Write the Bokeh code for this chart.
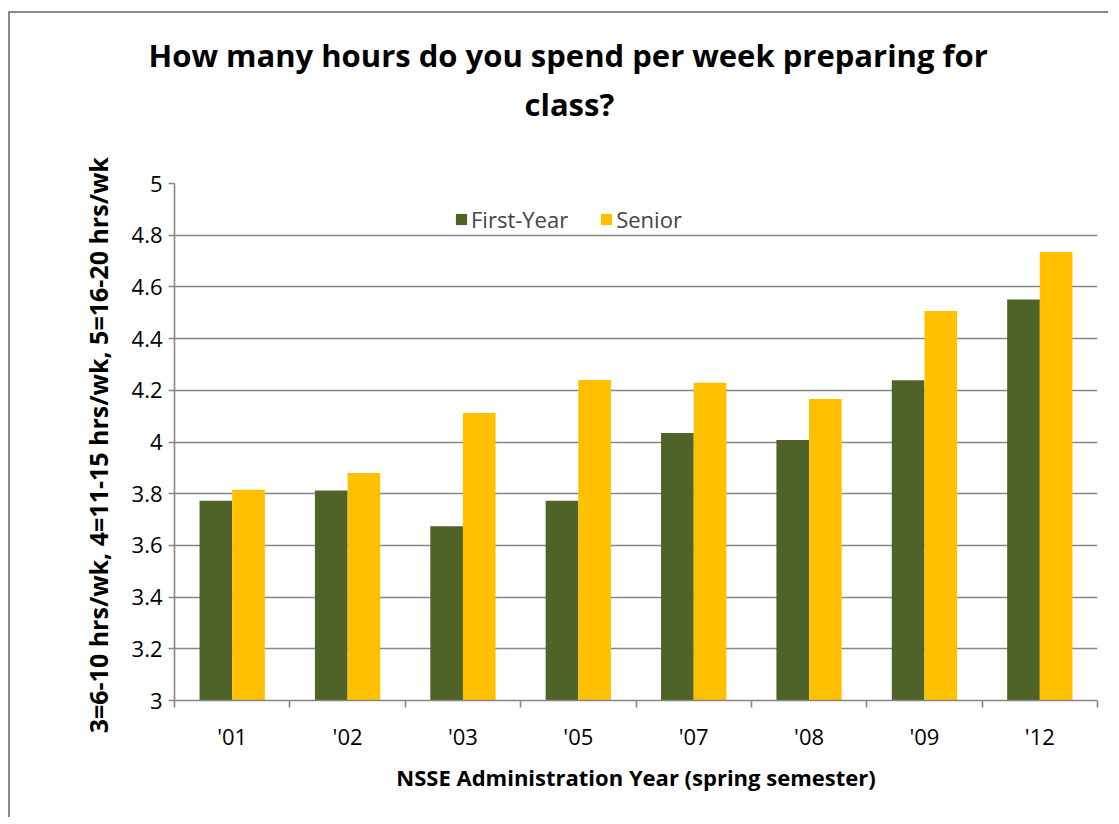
import numpy as np
from bokeh.plotting import figure
from bokeh.models import Range1d, FixedTicker, Title, Legend, LegendItem
from bokeh.embed import file_html
from bokeh.resources import INLINE

years = ["'01", "'02", "'03", "'05", "'07", "'08", "'09", "'12"]
first_year = [3.773, 3.812, 3.674, 3.773, 4.035, 4.008, 4.239, 4.551]
senior = [3.815, 3.880, 4.112, 4.240, 4.229, 4.166, 4.507, 4.735]
y_ticks = [3, 3.2, 3.4, 3.6, 3.8, 4, 4.2, 4.4, 4.6, 4.8, 5]
y_tick_labels = ["3", "3.2", "3.4", "3.6", "3.8", "4", "4.2", "4.4", "4.6", "4.8", "5"]
title_lines = ["How many hours do you spend per week preparing for", "class?"]

GREEN = "#4F6228"
GOLD = "#FFC000"
GRID = "#878787"
FONT = "Open Sans"

OX, OY = 10, 13
W, H = 1100, 806
p = figure(width=W, height=H, output_backend="svg", toolbar_location=None,
           x_range=Range1d(0, len(years)), y_range=Range1d(3, 5),
           min_border_left=174 - OX, min_border_right=W - (1097 - OX),
           min_border_top=183 - OY, min_border_bottom=H - (700 - OY))
p.margin = (11, 0, 0, 8)
p.styles = {"border-top": "2px solid #8a8a8a", "border-left": "2px solid #8a8a8a"}
p.outline_line_color = None
p.background_fill_color = "white"
p.border_fill_color = "white"

idx = np.arange(len(years))
bw = 0.283
r1 = p.vbar(x=idx + 0.5 - bw / 2, top=first_year, bottom=3, width=bw,
            fill_color=GREEN, line_color=None)
r2 = p.vbar(x=idx + 0.5 + bw / 2, top=senior, bottom=3, width=bw,
            fill_color=GOLD, line_color=None)

# axes
p.xaxis.ticker = FixedTicker(ticks=[i + 0.5 for i in range(len(years))],
                             minor_ticks=list(range(len(years) + 1)))
p.xaxis.major_label_overrides = {i + 0.5: y for i, y in enumerate(years)}
p.xaxis.major_tick_out = 0
p.xaxis.major_tick_in = 0
p.xaxis.minor_tick_out = 7
p.xaxis.minor_tick_in = 0
p.xaxis.minor_tick_line_color = GRID
p.xaxis.minor_tick_line_width = 1.6
p.xaxis.axis_line_color = GRID
p.xaxis.axis_line_width = 1.6
p.xaxis.major_label_text_font = FONT
p.xaxis.major_label_text_font_size = "22px"
p.xaxis.major_label_text_color = "black"
p.xaxis.major_label_standoff = 13
p.xaxis.axis_label = "NSSE Administration Year (spring semester)"
p.xaxis.axis_label_text_font = FONT
p.xaxis.axis_label_text_font_style = "bold"
p.xaxis.axis_label_text_font_size = "22px"
p.xaxis.axis_label_text_color = "black"
p.xaxis.axis_label_standoff = 8

p.yaxis.ticker = FixedTicker(ticks=y_ticks)
p.yaxis.major_label_overrides = dict(zip(y_ticks, y_tick_labels))
p.yaxis.major_tick_out = 6
p.yaxis.major_tick_in = 0
p.yaxis.minor_tick_line_color = None
p.yaxis.major_tick_line_color = GRID
p.yaxis.major_tick_line_width = 1.6
p.yaxis.axis_line_color = GRID
p.yaxis.axis_line_width = 1.6
p.yaxis.major_label_text_font = FONT
p.yaxis.major_label_text_font_size = "22px"
p.yaxis.major_label_text_color = "black"
p.yaxis.major_label_standoff = 6
p.yaxis.axis_label = "3=6-10 hrs/wk,  4=11-15 hrs/wk, 5=16-20 hrs/wk"
p.yaxis.axis_label_text_font = FONT
p.yaxis.axis_label_text_font_style = "bold"
p.yaxis.axis_label_text_font_size = "25px"
p.yaxis.axis_label_text_color = "black"
p.yaxis.axis_label_standoff = 14

p.xgrid.grid_line_color = None
p.ygrid.grid_line_color = GRID
p.ygrid.grid_line_width = 1.6

# legend
legend = Legend(items=[LegendItem(label="First-Year", renderers=[r1]),
                       LegendItem(label="Senior", renderers=[r2])],
                orientation="horizontal", location=(280, 466),
                border_line_color=None, background_fill_alpha=0,
                label_text_font=FONT, label_text_font_size="22px",
                glyph_width=14, glyph_height=14, spacing=31,
                label_standoff=3, padding=4, margin=0)
p.add_layout(legend, "center")

# title (two lines) stacked above the plot, with a spacer nearest the frame
spacer = Title(text=" ", text_font=FONT, text_font_size="31px", standoff=10)
t2 = Title(text=title_lines[1], align="left", offset=350, text_font=FONT,
           text_font_style="bold", text_font_size="31px", text_color="black",
           standoff=10)
t1 = Title(text=title_lines[0], align="left", offset=-26, text_font=FONT,
           text_font_style="bold", text_font_size="31px", text_color="black",
           standoff=0)
p.add_layout(spacer, "above")
p.add_layout(t2, "above")
p.add_layout(t1, "above")

open("out.html", "w").write(file_html(p, INLINE))
